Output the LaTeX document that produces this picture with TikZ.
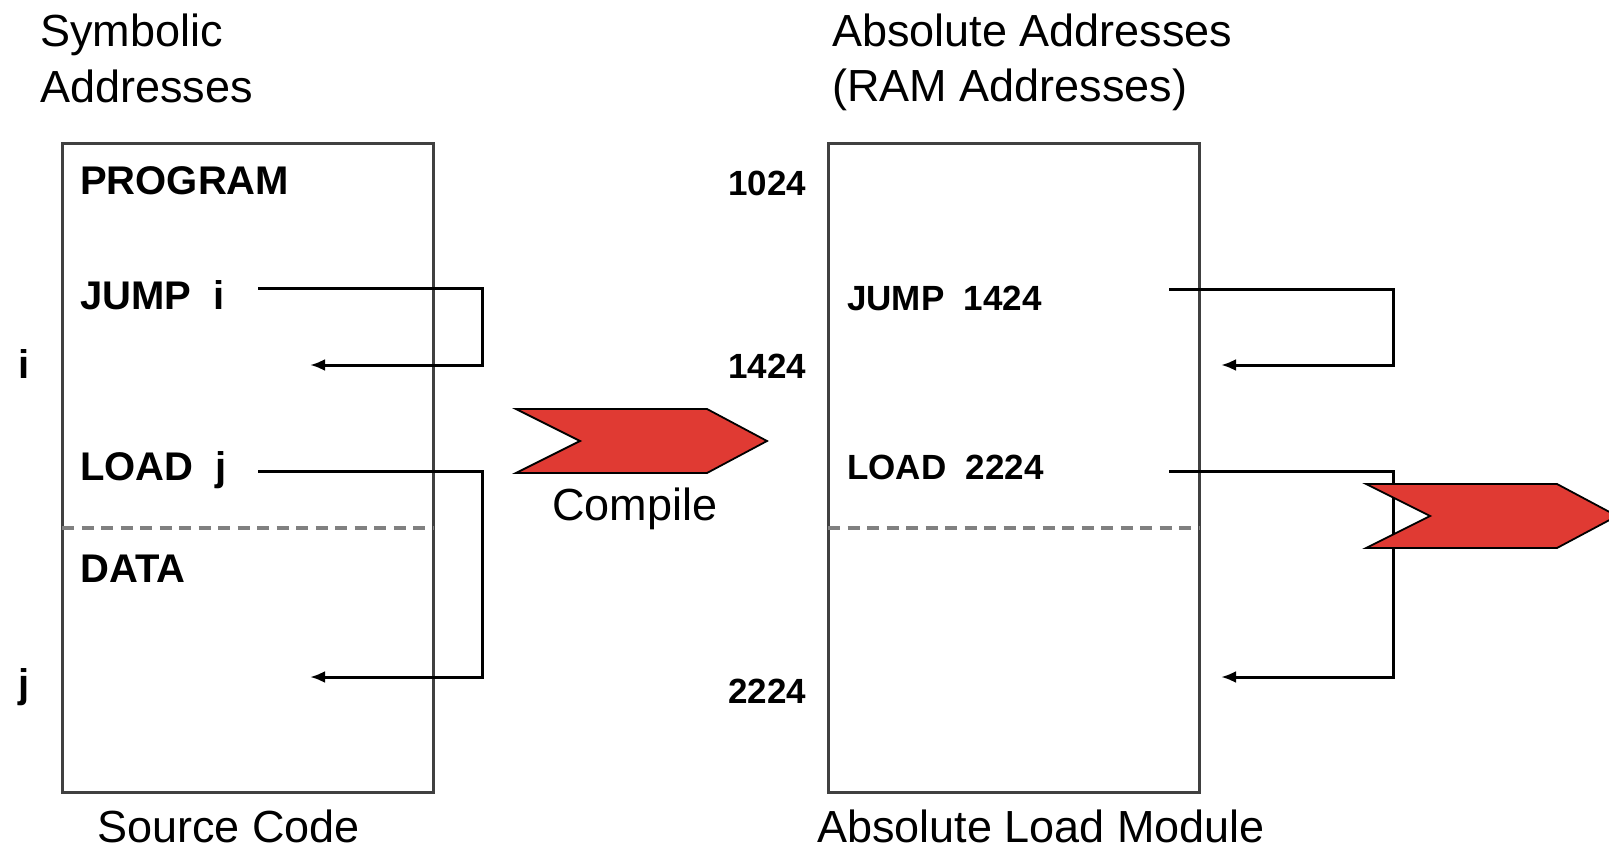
\documentclass[tikz,border=0pt]{standalone}
\usepackage{fontspec}
\setmainfont{Liberation Sans}
\usetikzlibrary{arrows.meta, positioning}

\definecolor{flagred}{RGB}{224,58,51}

\tikzset{
  membox/.style={draw=black!75, line width=3pt, minimum width=371pt, minimum height=648pt, inner sep=0pt},
  heading/.style={inner sep=0pt, anchor=base west, font=\fontsize{45}{54}\selectfont},
  cell/.style={inner sep=0pt, anchor=base west, font=\fontsize{40}{48}\selectfont\bfseries},
  abscell/.style={inner sep=0pt, anchor=base west, font=\fontsize{35}{42}\selectfont\bfseries},
  link/.style={line width=3pt, -{Latex[length=15pt,width=12pt]}},
  divider/.style={draw=black!50, line width=3.5pt, dash pattern=on 12pt off 7.5pt},
  flag/.style={fill=flagred, draw=black, line width=1.8pt, line join=miter},
}

\begin{document}
\begin{tikzpicture}[x=1pt, y=-1pt]
        \useasboundingbox (0,0) rectangle (1609,850);
        \clip (0,0) rectangle (1609,850);

        % Headings
        \node[heading] (symb) at (40,47) {Symbolic};
        \node[heading] (symb2) at (40,103) {Addresses};
        \node[heading] (abs) at (832,47) {Absolute Addresses};
        \node[heading] (abs2) at (832,102) {(RAM Addresses)};

        % Memory boxes
        \node[membox] (src) at (247.5,468) {};
        \node[membox] (lmod) at (1013.5,468) {};
        \draw[divider] (62,528) -- (433,528);
        \draw[divider] (828,528) -- (1199,528);
        \node[heading] (srclbl) at (97,842) {Source Code};
        \node[heading] (lmodlbl) at (817,842) {Absolute Load Module};

        % Source code
        \node[cell] (prog) at (80,195) {PROGRAM};
        \node[cell] (jumpi) at (80,310) {JUMP~~i};
        \node[cell] (loadj) at (80,480) {LOAD~~j};
        \node[cell] (data) at (80,582) {DATA};
        \node[cell] (addri) at (18,378) {i};
        \node[cell] (addrj) at (18,697) {j};

        % Load module
        \node[abscell] (a1024) at (728,196) {1024};
        \node[abscell] (a1424) at (728,378) {1424};
        \node[abscell] (a2224) at (728,703) {2224};
        \node[abscell] (jump1424) at (847,311) {JUMP~~1424};
        \node[abscell] (load2224) at (847,479) {LOAD~~2224};

        % Links
        \coordinate (jsrc) at (258,289);
        \coordinate (jdst) at (310,365);
        \coordinate (lsrc) at (258,471);
        \coordinate (ldst) at (310,677);
        \coordinate (jsrc2) at (1169,290);
        \coordinate (jdst2) at (1221,365);
        \coordinate (lsrc2) at (1169,471);
        \coordinate (ldst2) at (1221,677);
        \draw[link] (jsrc) -- ++(224,0) |- (jdst);
        \draw[link] (lsrc) -- ++(224,0) |- (ldst);
        \draw[link] (jsrc2) -- ++(224,0) |- (jdst2);
        \draw[link] (lsrc2) -- ++(224,0) |- (ldst2);

        % Steps
        \foreach \fx/\fy in {516/409, 1366/484}
          \draw[flag] (\fx,\fy) -- ++(191,0) -- ++(60,32) -- ++(-60,32) -- ++(-191,0) -- ++(64,-32) -- cycle;
        \node[heading] (compile) at (552,520) {Compile};
    \end{tikzpicture}
\end{document}
